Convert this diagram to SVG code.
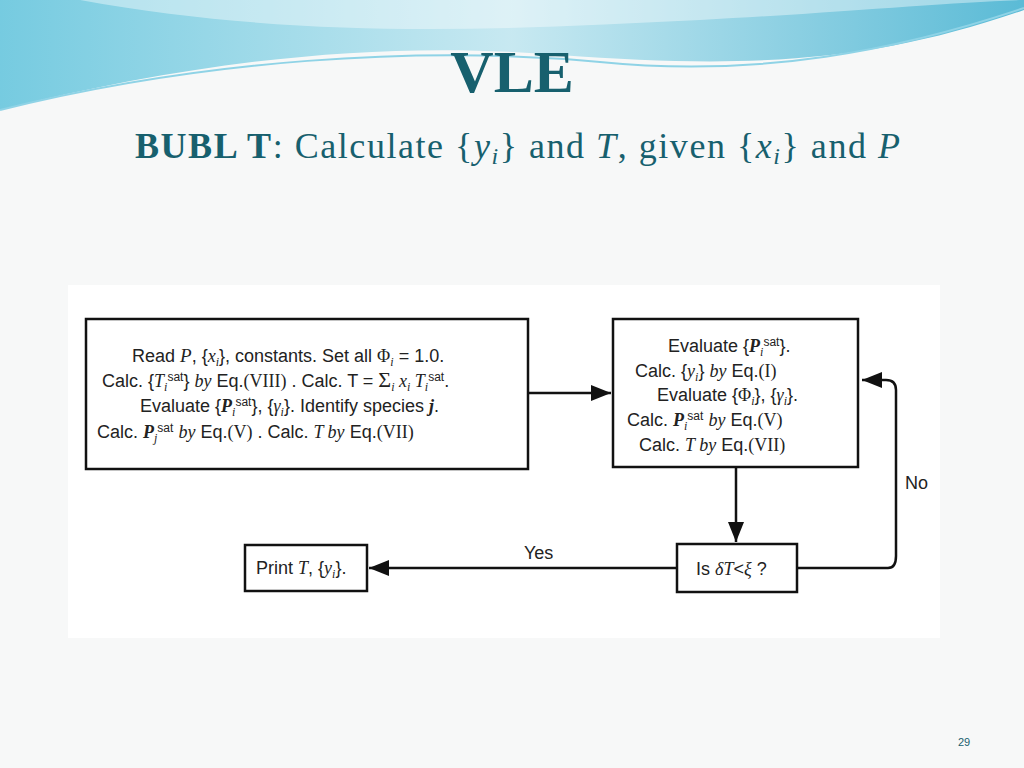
<svg xmlns="http://www.w3.org/2000/svg" width="1024" height="768" viewBox="0 0 1024 768">
<defs>
<linearGradient id="wave" x1="0" y1="0" x2="1" y2="0"><stop offset="0" stop-color="#5fc3dc"/><stop offset="0.5" stop-color="#bfe6f0"/><stop offset="1" stop-color="#3fb0d0"/></linearGradient>
<marker id="ah" viewBox="0 0 10 10" refX="10" refY="5" markerWidth="8" markerHeight="8" orient="auto"><path d="M0,1 L10,5 L0,9 Z" fill="#111"/></marker>
</defs>
<style>
.box{fill:#fff;stroke:#111;stroke-width:2.5}
.t{font-family:"Liberation Sans",Arial,sans-serif;font-size:18px;fill:#222}
.m{font-family:"Liberation Serif",serif;font-style:italic}
.r{font-family:"Liberation Serif",serif}
.s{font-size:12px}
.ln{stroke:#111;stroke-width:2.5;fill:none}
</style>
<rect width="1024" height="768" fill="#f7f8f8"/>
<path d="M0,0 H1024 V10 C880,60 760,70 560,55 C380,40 200,60 0,110 Z" fill="url(#wave)" opacity="0.85"/>
<path d="M0,110 C200,60 420,45 600,62 C760,78 900,50 1024,8" stroke="#8fd3e6" stroke-width="2" fill="none"/>
<path d="M80,0 C300,40 500,30 700,20 C850,12 950,2 1024,0" fill="#ffffff" opacity="0.4"/>
<text x="512" y="92" text-anchor="middle" font-family="Liberation Serif,serif" font-weight="bold" font-size="60" fill="#17606e">VLE</text>
<text x="135" y="158" font-family="Liberation Serif,serif" font-size="36" fill="#17606e" textLength="765" lengthAdjust="spacing"><tspan font-weight="bold">BUBL T</tspan>: Calculate {<tspan font-style="italic">y</tspan><tspan font-style="italic" font-size="24" dy="6">i</tspan><tspan dy="-6">} and </tspan><tspan font-style="italic">T</tspan>, given {<tspan font-style="italic">x</tspan><tspan font-style="italic" font-size="24" dy="6">i</tspan><tspan dy="-6">} and </tspan><tspan font-style="italic">P</tspan></text>
<rect x="68" y="285" width="872" height="353" fill="#fff"/>
<g id="connectors">
<line class="ln" x1="528" y1="393" x2="611" y2="393" marker-end="url(#ah)"/>
<line class="ln" x1="736" y1="467" x2="736" y2="542" marker-end="url(#ah)"/>
<line class="ln" x1="677" y1="568" x2="369" y2="568" marker-end="url(#ah)"/>
<path class="ln" d="M797,568 H888 Q896,568 896,556 V390 Q896,380 886,380 H862" marker-end="url(#ah)"/>
<text class="t" x="524" y="559">Yes</text>
<text class="t" x="905" y="489">No</text>
</g>
<g id="n1">
<rect class="box" x="86" y="319" width="442" height="150"/>
<text class="t" x="132" y="362">Read <tspan class="m" font-size="19">P</tspan>, {<tspan class="m">x<tspan class="s" dy="4">i</tspan></tspan><tspan dy="-4">}, constants. Set all </tspan><tspan class="r">Φ</tspan><tspan class="m s" dy="4">i</tspan><tspan dy="-4"> = 1.0.</tspan></text>
<text class="t" x="102" y="387">Calc. {<tspan class="m">T</tspan><tspan class="m s" dy="4">i</tspan><tspan class="s" dy="-10">sat</tspan><tspan dy="6">} </tspan><tspan class="m">by</tspan> Eq.<tspan class="r">(VIII)</tspan>    . Calc. T = <tspan class="r" font-size="22">Σ</tspan><tspan class="m s" dy="4">i</tspan><tspan class="m" dy="-4"> x</tspan><tspan class="m s" dy="4">i</tspan><tspan class="m" dy="-4"> T</tspan><tspan class="m s" dy="4">i</tspan><tspan class="s" dy="-10">sat</tspan><tspan dy="6">.</tspan></text>
<text class="t" x="140" y="412">Evaluate {<tspan class="m" font-weight="bold">P</tspan><tspan class="m s" dy="4">i</tspan><tspan class="s" dy="-10">sat</tspan><tspan dy="6">}, {</tspan><tspan class="m">γ</tspan><tspan class="m s" dy="4">i</tspan><tspan dy="-4">}. Identify species </tspan><tspan class="m" font-weight="bold">j</tspan>.</text>
<text class="t" x="97" y="438">Calc. <tspan class="m" font-weight="bold">P</tspan><tspan class="m s" dy="4">j</tspan><tspan class="s" dy="-10">sat</tspan><tspan dy="6"> </tspan><tspan class="m">by</tspan> Eq.<tspan class="r">(V)</tspan> . Calc. <tspan class="m">T by</tspan> Eq.<tspan class="r">(VII)</tspan></text>
</g>
<g id="n2">
<rect class="box" x="613" y="319" width="245" height="148"/>
<text class="t" x="668" y="352">Evaluate {<tspan class="m" font-weight="bold">P</tspan><tspan class="m s" dy="4">i</tspan><tspan class="s" dy="-10">sat</tspan><tspan dy="6">}.</tspan></text>
<text class="t" x="635" y="377">Calc. {<tspan class="m">y</tspan><tspan class="m s" dy="4">i</tspan><tspan dy="-4">} </tspan><tspan class="m">by</tspan> Eq.<tspan class="r">(I)</tspan></text>
<text class="t" x="657" y="401">Evaluate {<tspan class="r">Φ</tspan><tspan class="m s" dy="4">i</tspan><tspan dy="-4">}, {</tspan><tspan class="m">γ</tspan><tspan class="m s" dy="4">i</tspan><tspan dy="-4">}.</tspan></text>
<text class="t" x="627" y="426">Calc. <tspan class="m" font-weight="bold">P</tspan><tspan class="m s" dy="4">i</tspan><tspan class="s" dy="-10">sat</tspan><tspan dy="6"> </tspan><tspan class="m">by</tspan> Eq.<tspan class="r">(V)</tspan></text>
<text class="t" x="639" y="451">Calc. <tspan class="m">T by</tspan> Eq.<tspan class="r">(VII)</tspan></text>
</g>
<g id="n3">
<rect class="box" x="677" y="544" width="120" height="48"/>
<text class="t" x="696" y="575">Is <tspan class="m">δT</tspan>&lt;<tspan class="m">ξ</tspan> ?</text>
</g>
<g id="n4">
<rect class="box" x="245" y="545" width="122" height="46"/>
<text class="t" x="256" y="574">Print <tspan class="m">T</tspan>, {<tspan class="m">y</tspan><tspan class="m s" dy="4">i</tspan><tspan dy="-4">}.</tspan></text>
</g>
<text x="958" y="746" font-family="Liberation Sans,sans-serif" font-size="11" fill="#17606e">29</text>
</svg>
